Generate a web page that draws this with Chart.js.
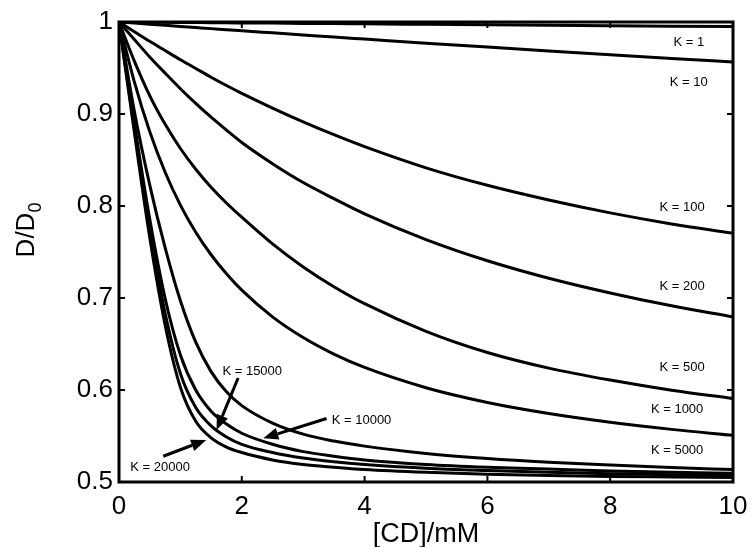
<!DOCTYPE html>
<html>
<head>
<meta charset="utf-8">
<script src="https://cdn.jsdelivr.net/npm/chart.js@4.4.1/dist/chart.umd.min.js"></script>
<style>
  html, body { margin: 0; padding: 0; background: #fff; }
  #wrap { width: 752px; height: 547px; position: relative; }
</style>
</head>
<body>
<div id="wrap"><canvas id="myChart"></canvas></div>
<script>
// [CD] in mM, shared by all curves
const cdValues = [0, 0.25, 0.5, 0.75, 1, 1.25, 1.5, 1.75, 2, 2.5, 3, 3.5, 4, 5, 6, 7, 8, 9, 10];

// D/D0, one array per binding constant
const k1     = [1, 0.9999, 0.9998, 0.9996, 0.9995, 0.9994, 0.9993, 0.9991, 0.999, 0.9988, 0.9985, 0.9983, 0.998, 0.9975, 0.997, 0.9965, 0.996, 0.9955, 0.995];
const k10    = [1, 0.9988, 0.9976, 0.9964, 0.9952, 0.994, 0.9928, 0.9917, 0.9905, 0.9882, 0.9859, 0.9836, 0.9814, 0.977, 0.9727, 0.9685, 0.9644, 0.9604, 0.9565];
const k100   = [1, 0.9895, 0.979, 0.969, 0.959, 0.9495, 0.94, 0.931, 0.9225, 0.9065, 0.8915, 0.8775, 0.8645, 0.8415, 0.8225, 0.8065, 0.7925, 0.7805, 0.7705];
const k200   = [1, 0.981, 0.962, 0.9445, 0.9275, 0.9115, 0.8965, 0.8825, 0.869, 0.846, 0.8255, 0.808, 0.7915, 0.7635, 0.7405, 0.7215, 0.7055, 0.6915, 0.6795];
const k500   = [1, 0.9575, 0.92, 0.889, 0.8625, 0.84, 0.8205, 0.8033, 0.7878, 0.7588, 0.7338, 0.7123, 0.6938, 0.6638, 0.6408, 0.6238, 0.6108, 0.5998, 0.5908];
const k1000  = [1, 0.935, 0.881, 0.837, 0.801, 0.7715, 0.747, 0.7263, 0.7085, 0.6795, 0.657, 0.639, 0.6245, 0.6025, 0.5865, 0.5745, 0.565, 0.5572, 0.5507];
const k5000  = [1, 0.903, 0.823, 0.755, 0.697, 0.652, 0.62, 0.598, 0.583, 0.564, 0.552, 0.5445, 0.539, 0.531, 0.5255, 0.5215, 0.5185, 0.5158, 0.5135];
const k10000 = [1, 0.89, 0.786, 0.70, 0.638, 0.60, 0.577, 0.563, 0.553, 0.541, 0.533, 0.528, 0.524, 0.519, 0.516, 0.514, 0.512, 0.5105, 0.5095];
const k15000 = [1, 0.885, 0.776, 0.684, 0.618, 0.581, 0.561, 0.549, 0.541, 0.532, 0.526, 0.522, 0.519, 0.515, 0.5125, 0.5105, 0.509, 0.508, 0.507];
const k20000 = [1, 0.88, 0.766, 0.671, 0.603, 0.566, 0.548, 0.538, 0.532, 0.524, 0.519, 0.516, 0.5135, 0.5105, 0.5085, 0.507, 0.506, 0.5055, 0.505];

const curves = [k1, k10, k100, k200, k500, k1000, k5000, k10000, k15000, k20000];
const curveNames = ['K = 1', 'K = 10', 'K = 100', 'K = 200', 'K = 500', 'K = 1000', 'K = 5000', 'K = 10000', 'K = 15000', 'K = 20000'];

// text labels in data coordinates
const labelText = ['K = 1', 'K = 10', 'K = 100', 'K = 200', 'K = 500', 'K = 1000', 'K = 5000', 'K = 15000', 'K = 10000', 'K = 20000'];
const labelX    = [9.28, 9.28, 9.17, 9.17, 9.17, 9.09, 9.09, 2.17, 3.95, 0.67];
const labelY    = [0.978, 0.934, 0.798, 0.713, 0.625, 0.579, 0.534, 0.620, 0.567, 0.516];

// arrows: tail -> tip, data coordinates
const arrowFromX = [1.94, 3.38, 0.72];
const arrowFromY = [0.613, 0.569, 0.528];
const arrowToX   = [1.59, 2.35, 1.42];
const arrowToY   = [0.5565, 0.5475, 0.5457];

const xTicks = [0, 2, 4, 6, 8, 10];
const yTicks = [0.5, 0.6, 0.7, 0.8, 0.9, 1];

const fontFam = '"Liberation Sans", Arial, Helvetica, sans-serif';

const datasets = curves.map((vals, i) => ({
    label: curveNames[i],
    data: vals.map((v, j) => ({ x: cdValues[j], y: v })),
    borderColor: '#000',
    borderWidth: 3,
    pointRadius: 0,
    fill: false,
    cubicInterpolationMode: 'monotone'
}));

// frame, inward ticks, axis titles, K labels and arrows
const decorPlugin = {
    id: 'decor',
    afterDraw(chart) {
        const { ctx, chartArea: a, scales: { x, y } } = chart;
        ctx.save();
        ctx.strokeStyle = '#000';
        ctx.fillStyle = '#000';

        // ticks pointing inwards
        ctx.lineWidth = 2;
        ctx.beginPath();
        xTicks.forEach(t => {
            const px = x.getPixelForValue(t);
            ctx.moveTo(px, a.bottom); ctx.lineTo(px, a.bottom - 6);
            ctx.moveTo(px, a.top); ctx.lineTo(px, a.top + 6);
        });
        yTicks.forEach(t => {
            const py = y.getPixelForValue(t);
            ctx.moveTo(a.left, py); ctx.lineTo(a.left + 6, py);
            ctx.moveTo(a.right, py); ctx.lineTo(a.right - 6, py);
        });
        ctx.stroke();

        // box
        ctx.lineWidth = 3;
        ctx.strokeRect(a.left, a.top, a.right - a.left, a.bottom - a.top);

        // curve labels
        ctx.font = '13px ' + fontFam;
        ctx.textAlign = 'center';
        ctx.textBaseline = 'middle';
        labelText.forEach((t, i) => {
            ctx.fillText(t, x.getPixelForValue(labelX[i]), y.getPixelForValue(labelY[i]));
        });

        // arrows
        arrowFromX.forEach((fx, i) => {
            const x0 = x.getPixelForValue(fx), y0 = y.getPixelForValue(arrowFromY[i]);
            const x1 = x.getPixelForValue(arrowToX[i]), y1 = y.getPixelForValue(arrowToY[i]);
            const ang = Math.atan2(y1 - y0, x1 - x0);
            const hl = 15, hw = 6;
            const bx = x1 - hl * Math.cos(ang), by = y1 - hl * Math.sin(ang);
            ctx.lineWidth = 3;
            ctx.beginPath();
            ctx.moveTo(x0, y0); ctx.lineTo(bx, by);
            ctx.stroke();
            ctx.beginPath();
            ctx.moveTo(x1, y1);
            ctx.lineTo(bx + hw * Math.sin(ang), by - hw * Math.cos(ang));
            ctx.lineTo(bx - hw * Math.sin(ang), by + hw * Math.cos(ang));
            ctx.closePath();
            ctx.fill();
        });

        // x axis title
        ctx.font = '27px ' + fontFam;
        ctx.textAlign = 'center';
        ctx.textBaseline = 'alphabetic';
        ctx.fillText('[CD]/mM', (a.left + a.right) / 2, 542);

        // y axis title with subscript
        ctx.translate(27, 230);
        ctx.rotate(-Math.PI / 2);
        ctx.textAlign = 'left';
        ctx.textBaseline = 'middle';
        ctx.font = '26px ' + fontFam;
        const w1 = ctx.measureText('D/D').width;
        ctx.font = '18px ' + fontFam;
        const w2 = ctx.measureText('0').width;
        const start = -(w1 + w2) / 2;
        ctx.font = '26px ' + fontFam;
        ctx.fillText('D/D', start, 0);
        ctx.font = '18px ' + fontFam;
        ctx.fillText('0', start + w1, 9);
        ctx.restore();
    }
};

const ctx = document.getElementById('myChart').getContext('2d');
new Chart(ctx, {
    type: 'line',
    data: { datasets: datasets },
    plugins: [decorPlugin],
    options: {
        responsive: true,
        maintainAspectRatio: false,
        animation: false,
        layout: { padding: { top: 22, right: 19, left: 0, bottom: 0 } },
        plugins: {
            legend: { display: false },
            tooltip: { enabled: false }
        },
        scales: {
            x: {
                type: 'linear',
                min: 0,
                max: 10,
                // fixed box so the plot area matches the reference
                afterFit: s => { s.height = 65; s.paddingLeft = 0; s.paddingRight = 0; },
                afterBuildTicks: s => { s.ticks = xTicks.map(v => ({ value: v })); },
                grid: { display: false, drawTicks: false },
                border: { display: false },
                ticks: {
                    color: '#000',
                    padding: 9,
                    maxRotation: 0,
                    font: { family: fontFam, size: 26 },
                    callback: v => String(v)
                }
            },
            y: {
                type: 'linear',
                min: 0.5,
                max: 1,
                afterFit: s => { s.width = 119; s.paddingTop = 0; s.paddingBottom = 0; },
                afterBuildTicks: s => { s.ticks = yTicks.map(v => ({ value: v })); },
                grid: { display: false, drawTicks: false },
                border: { display: false },
                ticks: {
                    color: '#000',
                    padding: 6,
                    font: { family: fontFam, size: 26 },
                    callback: v => (v === 1 ? '1' : Number(v).toFixed(1))
                }
            }
        }
    }
});
</script>
</body>
</html>
